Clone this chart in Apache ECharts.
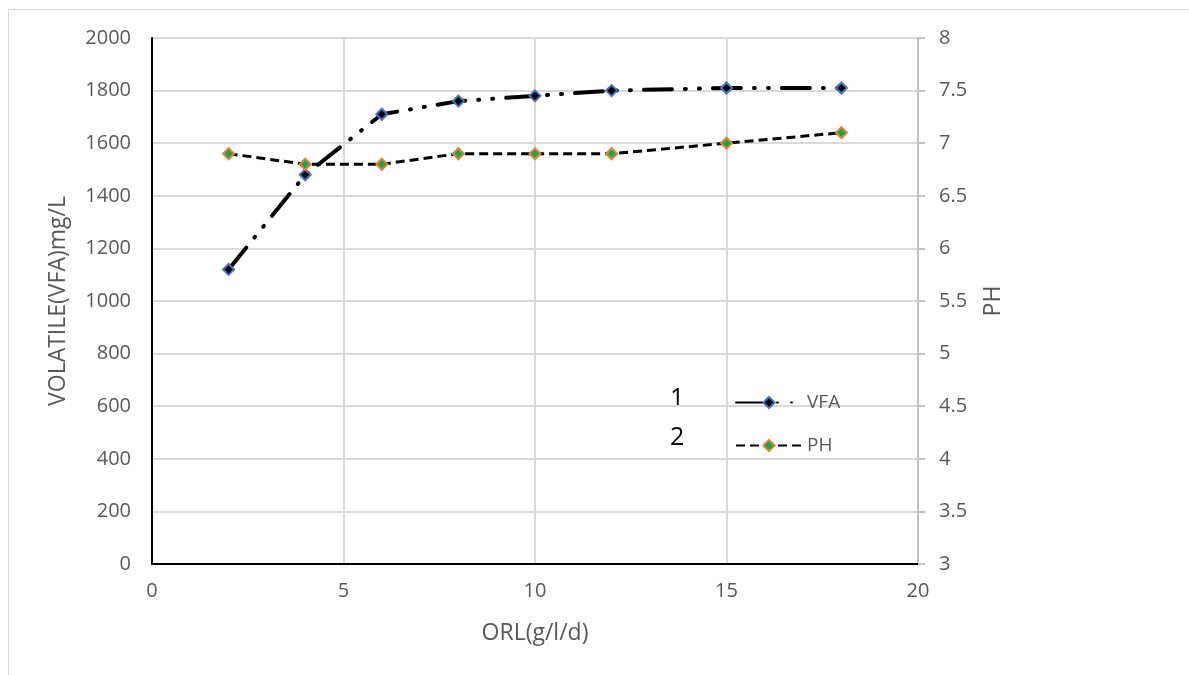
<!DOCTYPE html>
<html><head><meta charset="utf-8">
<script src="https://cdn.jsdelivr.net/npm/echarts@6/dist/echarts.min.js"></script>
<style>html,body{margin:0;padding:0;background:#fff}#c{width:1189px;height:675px}</style>
</head><body><div id="c"></div>
<script>
const orl = [2, 4, 6, 8, 10, 12, 15, 18];
const vfa = [1120, 1480, 1710, 1760, 1780, 1800, 1810, 1810];
const ph = [6.9, 6.8, 6.8, 6.9, 6.9, 6.9, 7.0, 7.1];
const xTitle = 'ORL(g/l/d)';
const yLeftTitle = 'VOLATILE(VFA)mg/L';
const yRightTitle = 'PH';

const chart = echarts.init(document.getElementById('c'));
const font = '"Open Sans", "Noto Sans", sans-serif';
const grey = '#595959';
chart.setOption({
  animation: false,
  backgroundColor: '#fff',
  grid: {left: 152, right: 271, top: 38, bottom: 111},
  graphic: [
    {type: 'rect', shape: {x: 8.5, y: 9.5, width: 1185, height: 670}, style: {fill: 'none', stroke: '#d9d9d9', lineWidth: 1}, silent: true},
    {type: 'text', left: 670, top: 386, style: {text: '1', fontSize: 25, fontFamily: font, fill: '#000'}},
    {type: 'text', left: 670, top: 425, style: {text: '2', fontSize: 25, fontFamily: font, fill: '#000'}}
  ],
  legend: {
    orient: 'vertical', left: 730, top: 388, itemWidth: 66, itemHeight: 14, itemGap: 24,
    textStyle: {fontSize: 19, color: grey, fontFamily: font},
    data: ['VFA', 'PH']
  },
  xAxis: {
    type: 'value', min: 0, max: 20, interval: 5,
    name: xTitle, nameLocation: 'middle', nameGap: 58,
    nameTextStyle: {fontSize: 23, color: grey, fontFamily: font},
    axisLine: {show: true, lineStyle: {color: '#000', width: 2}},
    axisTick: {show: false},
    axisLabel: {fontSize: 20, color: grey, margin: 17, fontFamily: font},
    splitLine: {show: true, lineStyle: {color: '#d9d9d9', width: 2}}
  },
  yAxis: [
    {
      type: 'value', min: 0, max: 2000, interval: 200,
      name: yLeftTitle, nameLocation: 'middle', nameGap: 82, nameRotate: 90,
      nameTextStyle: {fontSize: 23, color: grey, fontFamily: font},
      axisLine: {show: true, lineStyle: {color: '#000', width: 2}},
      axisTick: {show: false},
      axisLabel: {fontSize: 20, color: grey, margin: 21, fontFamily: font, formatter: v => String(v)},
      splitLine: {show: true, lineStyle: {color: '#d9d9d9', width: 2}}
    },
    {
      type: 'value', min: 3, max: 8, interval: 0.5, position: 'right',
      name: yRightTitle, nameLocation: 'middle', nameGap: 64, nameRotate: 90,
      nameTextStyle: {fontSize: 23, color: grey, fontFamily: font},
      axisLine: {show: true, lineStyle: {color: '#bfbfbf', width: 2}},
      axisTick: {show: true, inside: false, length: 7, lineStyle: {color: '#bfbfbf', width: 2}},
      axisLabel: {fontSize: 20, color: grey, margin: 21, fontFamily: font},
      splitLine: {show: false}
    }
  ],
  series: [
    {
      name: 'VFA', type: 'line', yAxisIndex: 0,
      data: orl.map((x, i) => [x, vfa[i]]),
      symbol: 'diamond', symbolSize: 11, showSymbol: true,
      itemStyle: {color: '#000', borderColor: '#4472C4', borderWidth: 2},
      lineStyle: {color: '#000', width: 4, type: [28, 13, 1, 13, 1, 13], cap: 'round'},
      z: 3
    },
    {
      name: 'PH', type: 'line', yAxisIndex: 1,
      data: orl.map((x, i) => [x, ph[i]]),
      symbol: 'diamond', symbolSize: 11, showSymbol: true,
      itemStyle: {color: '#00B050', borderColor: '#ED7D31', borderWidth: 2},
      lineStyle: {color: '#000', width: 3, type: [9, 5]},
      z: 4
    }
  ]
});
</script></body></html>
